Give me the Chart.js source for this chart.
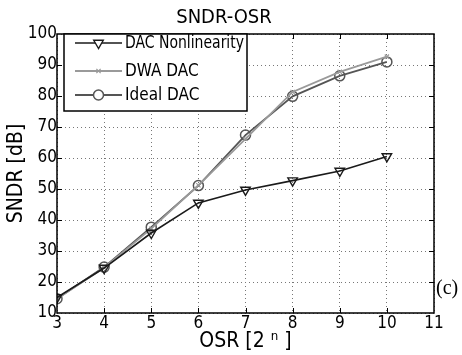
<!DOCTYPE html>
<html>
<head>
<meta charset="utf-8">
<script src="https://cdn.jsdelivr.net/npm/chart.js@4/dist/chart.umd.min.js"></script>
<style>
  html, body { margin: 0; padding: 0; background: #fff; }
  #wrap { width: 462px; height: 355px; position: relative; }
</style>
</head>
<body>
<div id="wrap"><canvas id="c" width="462" height="355"></canvas></div>
<script>
// OSR exponent n (2^n)
const osr = [3, 4, 5, 6, 7, 8, 9, 10];
const nonlinear = [15, 24.5, 35.8, 45.5, 49.7, 52.7, 55.8, 60.5];
const dwa = [14.6, 24.6, 37.2, 51.2, 66.2, 81.3, 87.8, 92.7];
const ideal = [14.6, 24.8, 37.7, 51.1, 67.4, 79.9, 86.5, 91];
const seriesNames = ['DAC Nonlinearity', 'DWA DAC', 'Ideal DAC'];

const FONT = "'Liberation Sans Narrow', 'DejaVu Sans Condensed', Arial, sans-serif";

const pts = ys => ys.map((y, i) => ({ x: osr[i], y }));

// frame, inner ticks, title, legend box, (c)
const decor = {
  id: 'decor',
  afterDraw(chart) {
    const { ctx, chartArea: a, scales } = chart;
    ctx.save();
    ctx.strokeStyle = '#000';
    ctx.lineWidth = 1.5;
    ctx.strokeRect(a.left, a.top, a.right - a.left, a.bottom - a.top);
    ctx.lineWidth = 1;
    ctx.beginPath();
    for (let v = 20; v < 100; v += 10) {
      const y = Math.round(scales.y.getPixelForValue(v)) + 0.5;
      ctx.moveTo(a.left, y); ctx.lineTo(a.left + 5, y);
      ctx.moveTo(a.right, y); ctx.lineTo(a.right - 5, y);
    }
    for (let v = 4; v < 11; v++) {
      const x = Math.round(scales.x.getPixelForValue(v)) + 0.5;
      ctx.moveTo(x, a.bottom); ctx.lineTo(x, a.bottom - 5);
      ctx.moveTo(x, a.top); ctx.lineTo(x, a.top + 5);
    }
    ctx.stroke();

    // title
    ctx.fillStyle = '#000';
    ctx.font = '20px ' + FONT;
    ctx.textAlign = 'center';
    ctx.textBaseline = 'middle';
    ctx.fillText('SNDR-OSR', 224, 18);

    // legend
    const bx = 64, by = a.top, bw = 183, bh = 77;
    ctx.fillStyle = '#fff';
    ctx.fillRect(bx, by, bw, bh);
    ctx.lineWidth = 1.5;
    ctx.strokeStyle = '#000';
    ctx.strokeRect(bx, by, bw, bh);
    const rows = [by + 9, by + 37, by + 61];
    chart.data.datasets.forEach((ds, i) => {
      const y = rows[i];
      ctx.strokeStyle = ds.borderColor;
      ctx.lineWidth = ds.borderWidth;
      ctx.beginPath();
      ctx.moveTo(75, y); ctx.lineTo(122, y);
      ctx.stroke();
      ctx.fillStyle = '#fff';
      ctx.lineWidth = ds.pointBorderWidth;
      Chart.helpers.drawPoint(ctx, {
        pointStyle: ds.pointStyle, radius: ds.pointRadius,
        rotation: ds.pointRotation || 0, borderWidth: ds.pointBorderWidth
      }, 98.5, y);
      ctx.fillStyle = '#000';
      ctx.font = '17px ' + FONT;
      ctx.textAlign = 'left';
      ctx.fillText(ds.label, 125, y + 1, 119);
    });

    ctx.font = "20px 'Liberation Serif', 'DejaVu Serif', serif";
    ctx.textAlign = 'left';
    ctx.fillText('(c)', 436, 289);
    ctx.restore();
  }
};

new Chart(document.getElementById('c'), {
  type: 'line',
  data: {
    datasets: [
      { label: seriesNames[0], data: pts(nonlinear), borderColor: '#1a1a1a', borderWidth: 1.6,
        pointStyle: 'triangle', pointRotation: 180, pointRadius: 5.5, pointBorderWidth: 1.4,
        pointBackgroundColor: 'rgba(0,0,0,0)', pointBorderColor: '#1a1a1a' },
      { label: seriesNames[1], data: pts(dwa), borderColor: '#9a9a9a', borderWidth: 1.8,
        pointStyle: 'crossRot', pointRadius: 3, pointBorderWidth: 1.2,
        pointBackgroundColor: 'rgba(0,0,0,0)', pointBorderColor: '#9a9a9a' },
      { label: seriesNames[2], data: pts(ideal), borderColor: '#555', borderWidth: 1.8,
        pointStyle: 'circle', pointRadius: 5, pointBorderWidth: 1.5,
        pointBackgroundColor: 'rgba(0,0,0,0)', pointBorderColor: '#555' }
    ]
  },
  plugins: [decor],
  options: {
    responsive: false,
    animation: false,
    layout: { padding: { top: 34, right: 28, left: 0, bottom: 0 } },
    plugins: { legend: { display: false }, title: { display: false }, tooltip: { enabled: false } },
    scales: {
      x: {
        type: 'linear', min: 3, max: 11,
        ticks: { stepSize: 1, color: '#000', font: { family: FONT, size: 17 }, padding: 0, maxRotation: 0 },
        grid: { color: '#777', drawTicks: false, lineWidth: 1 },
        border: { display: false, dash: [1, 3] },
        title: { display: true, text: 'OSR [2 ⁿ ]', color: '#000', font: { family: FONT, size: 21 }, padding: { top: 0, bottom: 1 } },
        afterFit(s) { s.height = 42; }
      },
      y: {
        min: 10, max: 100,
        ticks: { stepSize: 10, color: '#000', font: { family: FONT, size: 17 }, padding: 0 },
        grid: { color: '#777', drawTicks: false, lineWidth: 1 },
        border: { display: false, dash: [1, 3] },
        title: { display: true, text: 'SNDR [dB]', color: '#000', font: { family: FONT, size: 21 }, padding: { top: 4, bottom: 0 } },
        afterFit(s) { s.width = 57; }
      }
    }
  }
});
</script>
</body>
</html>
